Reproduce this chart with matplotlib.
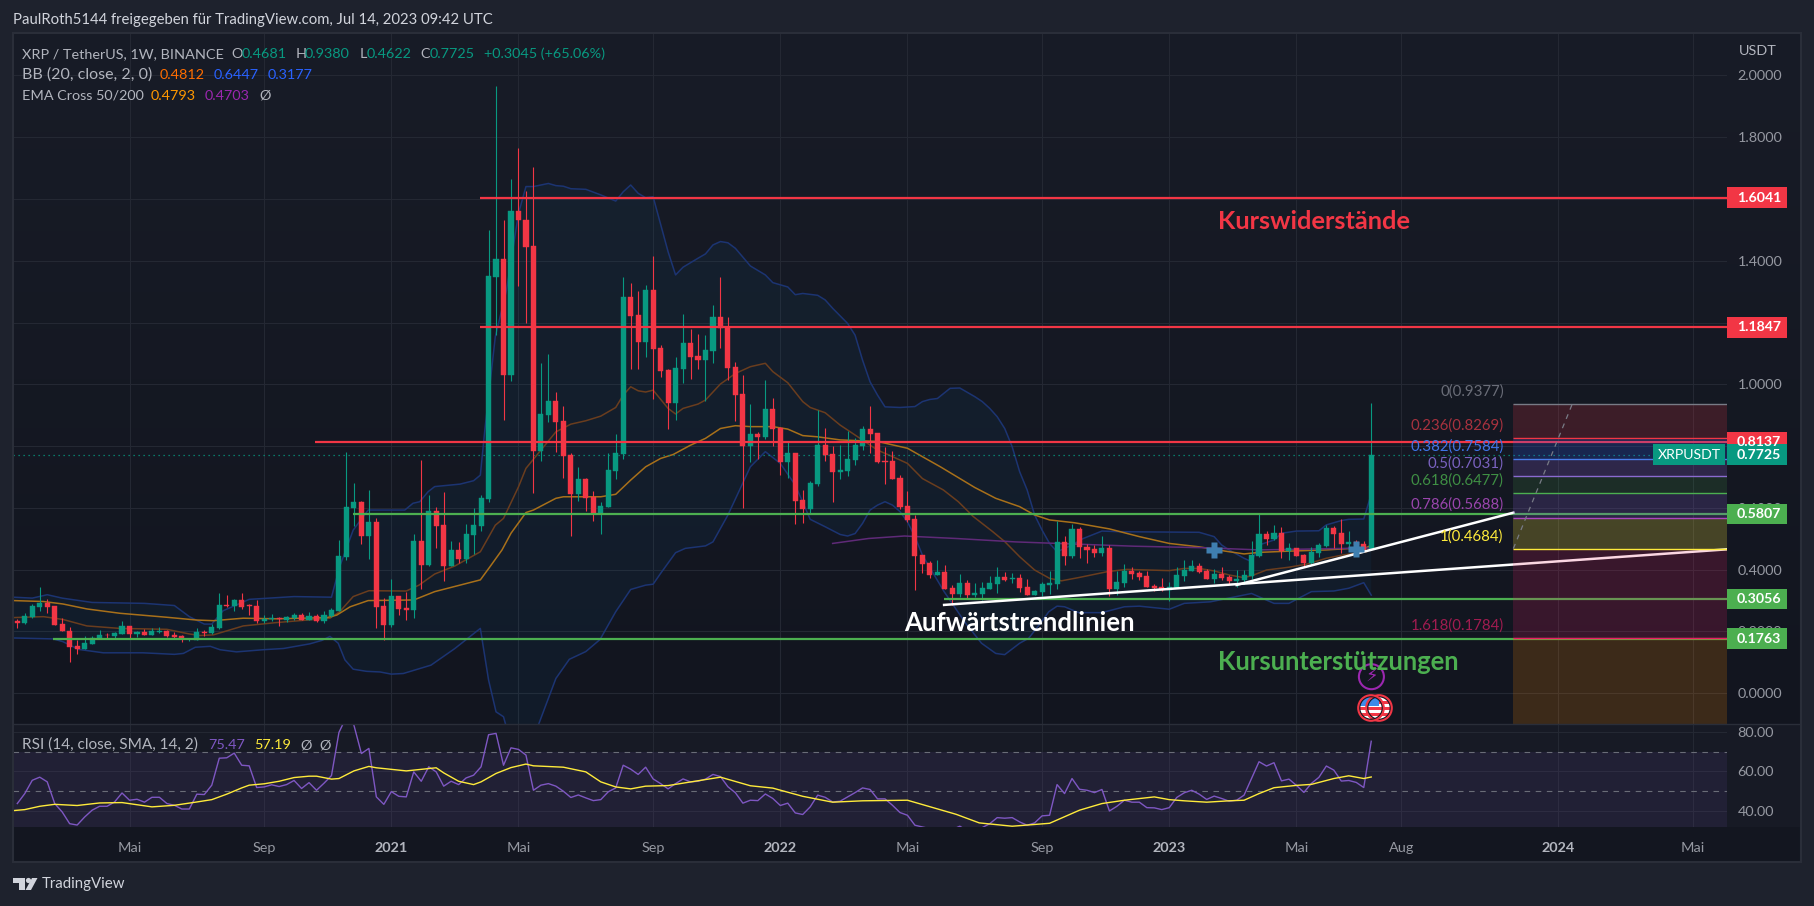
import numpy as np
import matplotlib
matplotlib.use("Agg")
import matplotlib.pyplot as plt
from matplotlib.patches import Rectangle, Circle, Polygon
from matplotlib.transforms import Affine2D

# Wochenkerzen XRP/USDT, Index 0 = Woche vom 20.01.2020
opens = [.235,.229,.247,.279,.292,.283,.224,.202,.153,.143,
         .161,.176,.190,.187,.193,.218,.192,.198,.190,.198,
         .202,.189,.186,.175,.174,.198,.195,.211,.285,.283,
         .302,.286,.283,.235,.239,.244,.238,.244,.253,.237,
         .249,.235,.250,.266,.441,.600,.619,.509,.554,.282,
         .221,.315,.276,.270,.493,.415,.590,.545,.412,.464,
         .435,.512,.541,.629,1.347,1.405,1.030,1.561,1.532,1.447,
         .784,.901,.946,.881,.771,.645,.693,.635,.582,.603,
         .719,.774,1.283,1.224,1.137,1.305,1.117,1.046,.939,1.049,
         1.134,1.091,1.079,1.108,1.218,1.185,1.056,.968,.800,.839,
         .829,.920,.858,.748,.777,.625,.596,.677,.803,.774,
         .716,.719,.755,.800,.855,.842,.752,.752,.697,.606,
         .564,.447,.422,.383,.393,.341,.321,.357,.318,.321,
         .337,.354,.376,.370,.373,.344,.318,.328,.352,.354,
         .490,.444,.532,.473,.467,.454,.470,.337,.357,.396,
         .389,.380,.347,.344,.334,.341,.380,.396,.412,.396,
         .370,.386,.376,.363,.367,.380,.444,.515,.499,.519,
         .460,.470,.448,.422,.454,.477,.535,.519,.483,.490,.483,.4681]
highs = [.241,.259,.289,.344,.304,.283,.244,.214,.172,.184,
         .184,.204,.195,.198,.233,.218,.203,.208,.210,.214,
         .206,.197,.189,.180,.211,.205,.223,.325,.318,.304,
         .325,.289,.302,.252,.257,.247,.250,.260,.260,.263,
         .256,.266,.275,.496,.780,.681,.622,.658,.567,.308,
         .370,.315,.329,.516,.755,.642,.603,.651,.493,.490,
         .548,.600,.642,1.499,1.965,1.532,1.664,1.765,1.626,1.703,
         1.069,1.098,.975,.930,.777,.732,.697,.655,.619,.777,
         .839,1.347,1.328,1.302,1.321,1.415,1.127,1.049,1.088,1.227,
         1.179,1.163,1.159,1.256,1.347,1.218,1.072,1.030,.936,.845,
         1.014,.955,.862,.813,.777,.658,.687,.917,.858,.800,
         .803,.849,.825,.865,.930,.842,.797,.784,.706,.654,
         .577,.447,.428,.431,.415,.350,.386,.367,.357,.360,
         .380,.409,.393,.389,.386,.370,.334,.360,.396,.558,
         .509,.548,.538,.483,.480,.509,.480,.396,.418,.409,
         .396,.396,.354,.373,.360,.409,.431,.431,.422,.402,
         .402,.409,.383,.399,.399,.493,.583,.525,.545,.538,
         .486,.470,.451,.473,.486,.545,.541,.564,.525,.496,.493,.938]
lows = [.212,.225,.244,.267,.261,.222,.200,.102,.127,.143,
        .160,.176,.175,.177,.192,.177,.183,.189,.189,.194,
        .183,.179,.167,.170,.174,.187,.192,.208,.279,.266,
        .274,.253,.229,.228,.235,.218,.230,.238,.237,.237,
        .231,.229,.248,.266,.431,.541,.483,.435,.211,.172,
        .214,.253,.237,.244,.337,.412,.470,.363,.412,.422,
        .422,.451,.525,.619,1.159,.884,1.011,1.318,1.198,.648,
        .752,.878,.781,.697,.509,.622,.590,.557,.515,.603,
        .693,.758,1.049,1.049,1.088,.952,1.023,.855,.884,1.004,
        1.017,1.049,.946,1.069,1.117,1.014,.881,.599,.748,.758,
        .823,.800,.706,.697,.548,.551,.580,.671,.752,.619,
        .693,.703,.739,.787,.777,.745,.677,.693,.596,.554,
        .334,.389,.373,.383,.337,.286,.312,.305,.312,.302,
        .337,.325,.363,.357,.328,.318,.318,.315,.321,.337,
        .415,.438,.438,.422,.441,.444,.315,.318,.344,.370,
        .367,.344,.331,.331,.300,.341,.364,.396,.389,.370,
        .357,.367,.354,.344,.354,.370,.441,.480,.496,.438,
        .431,.444,.409,.418,.441,.473,.470,.454,.464,.448,.464,.4622]
closes = [.229,.250,.283,.292,.279,.222,.200,.151,.143,.163,
          .179,.189,.188,.195,.218,.192,.198,.190,.202,.202,
          .187,.183,.175,.177,.198,.196,.215,.286,.283,.302,
          .279,.284,.234,.242,.244,.239,.246,.253,.238,.250,
          .235,.253,.270,.444,.603,.619,.509,.554,.279,.221,
          .315,.273,.271,.493,.415,.590,.541,.412,.464,.435,
          .516,.545,.632,1.350,1.405,1.030,1.561,1.532,1.444,.784,
          .904,.946,.878,.768,.645,.693,.632,.582,.606,.723,
          .777,1.283,1.221,1.137,1.305,1.114,1.043,.939,1.053,1.134,
          1.088,1.079,1.111,1.218,1.182,1.053,.965,.800,.839,.829,
          .920,.855,.748,.777,.622,.596,.680,.803,.771,.716,
          .722,.758,.803,.855,.839,.748,.748,.693,.603,.561,
          .444,.418,.383,.393,.337,.321,.357,.318,.325,.341,
          .357,.376,.367,.373,.341,.318,.331,.354,.357,.490,
          .444,.532,.473,.464,.454,.470,.337,.360,.396,.386,
          .376,.344,.341,.334,.343,.383,.399,.412,.393,.370,
          .386,.373,.363,.370,.383,.448,.515,.499,.519,.460,
          .470,.444,.422,.457,.480,.535,.515,.483,.490,.480,.464,.7725]

# Bollinger-Bänder: Stützpunkte (Kerzenindex, Preis)
bb_upper_x = [-.5,2,4,6,10,17,21,23,25,26,27.5,31,37,42,43.1,44.9,46.9,51.8,52.9,53.8,54.9,55.8,59.2,61,
              61.9,62.5,63.9,65.4,67,68,69,71,72,73,74,76,78,80,81,82,83,84,85,87,88,89,91,92,93,94,95,96,
              98,100,101,103,104,105,107,108,109,111,112,113,114,115,116,118,120,121,122,123,124.7,126,
              128,129,130,131,132,133,134,135,136,137,138,139,141,142.5,145,147.4,158,160,161,162,164,165,
              166,168,169,171,174,175,177,178,180,181]
bb_upper = [.311,.308,.319,.308,.294,.291,.284,.248,.224,.224,.267,.304,.313,.311,.410,.528,.593,.593,.615,.620,.652,.669,.677,.688,
            .706,.852,1.154,1.305,1.553,1.640,1.640,1.650,1.643,1.641,1.633,1.631,1.613,1.593,1.623,1.645,1.618,1.604,1.607,1.429,1.354,1.379,1.408,1.422,1.451,1.462,1.458,1.440,
            1.383,1.354,1.329,1.315,1.290,1.294,1.288,1.273,1.246,1.197,1.159,1.078,1.008,.965,.927,.925,.928,.944,.951,.954,.987,.988,
            .960,.944,.922,.895,.857,.798,.717,.658,.577,.528,.485,.458,.480,.501,.525,.523,.521,.507,.480,.464,.437,.426,
            .480,.496,.518,.525,.526,.545,.559,.563,.564,.6447]
bb_lower_x = [-.5,4.8,6.1,8.2,11.5,16.8,21,22.2,23.8,25.8,27.1,29.3,32.9,35.6,39.1,40.7,41.8,42.9,43.8,44.9,46.7,48.5,50,
              51.6,55.3,58.5,61.9,63,64,65,65.5,67,69.7,72,73.8,76,77.9,80,82,84,85,86,88,89.3,92,93,95,98,100,102,104,
              106,108,110,111,112,113,114,115,116,117,118,119,120,121,123.9,126.8,128.9,130.8,132,134,135.2,136.6,137.9,139,140,
              141.9,145,148,150,154,156,159.5,165,168,170,173,176,178,180,181]
bb_lower = [.179,.176,.167,.142,.131,.131,.126,.129,.149,.152,.141,.134,.141,.145,.160,.171,.184,.162,.108,.078,.071,.069,.062,
            .064,.091,.145,.210,.043,-.060,-.076,-.12,-.25,-.10,.048,.110,.135,.174,.264,.336,.350,.353,.388,.455,.469,.477,.490,.577,.733,.782,.744,.674,
            .563,.539,.514,.509,.517,.550,.593,.609,.620,.609,.588,.555,.507,.447,.329,.226,.162,.129,.125,.162,.178,.221,.264,.282,.280,
            .261,.261,.280,.282,.272,.291,.296,.323,.291,.291,.329,.331,.340,.358,.3177]
bb_basis_x = [-.5,3.5,6.1,9.3,13.7,20,23,24.4,26.2,30.2,34.7,41.8,43.1,44.9,47,52,53.7,55.8,58.5,61.9,63.9,65,67,68,70,72,
              74,76,78,80,81,82,83,84,85,87,88,89,91,92,94,96,98,100,101,103,105,106,108,110,111,115,117,119,121,123.8,
              125.8,127.8,130.4,132,134,136,138,139.6,142,145.8,148.3,154,156,158,160,162,164,165.3,167,170,172.4,175,177.3,180.4,181]
bb_basis = [.245,.248,.239,.218,.210,.207,.192,.187,.189,.218,.229,.243,.264,.313,.332,.331,.350,.386,.412,.458,.544,.566,.668,.728,.787,.846,
            .871,.882,.897,.925,.965,.992,.979,.975,.981,.922,.904,.922,.936,.949,1.001,1.035,1.057,1.068,1.041,1.005,.944,.925,.908,.868,.852,.787,.766,.744,.695,.658,
            .620,.572,.523,.491,.442,.399,.372,.364,.375,.394,.401,.397,.404,.404,.396,.383,.374,.383,.399,.408,.418,.437,.448,.458,.4812]

# EMA 50 und EMA 200
ema50_x = [-.5,3.5,6.1,9.3,13.7,20,24,26.2,30.2,34.7,41.4,42.7,44.5,46.9,53,55.8,61.9,63.2,64.8,66,68,69,72,73,78,80,82,84,86,87.7,90,92,94,96,98,
           101,103,105,107,110,115,119,123.4,128,130.8,134,136,138,141.3,146,150,154,158,161.5,164,166,170,175,180.4,181]
ema50 = [.300,.297,.289,.273,.259,.246,.237,.235,.243,.241,.245,.253,.280,.300,.302,.329,.367,.410,.464,.518,.585,.593,.631,.636,.636,.644,.690,.733,.760,.773,.803,.825,.857,.866,.863,
         .863,.855,.834,.830,.820,.815,.793,.733,.666,.631,.604,.577,.561,.552,.532,.507,.485,.474,.460,.451,.456,.460,.464,.472,.4793]
ema200_x = [109,113.8,118.6,125.5,133.4,141.3,149.3,158.8,166,181]
ema200 = [.485,.501,.509,.501,.490,.483,.476,.471,.464,.4703]

# RSI pro Kerze und sein gleitender Durchschnitt (Stützpunkte)
rsi = [43.6,48.7,55.5,57.1,54.7,43.6,39.3,33.3,32.6,36.7,40.2,42.2,42.2,44.4,49.0,45.3,45.8,44.3,46.8,46.8,
       43.6,42.7,40.8,40.8,48.4,48.2,53.0,66.8,67.0,69.4,63.2,62.9,51.8,52.1,53.2,52.3,53.3,55.4,51.3,54.3,
       50.4,54.0,57.9,80.0,88.0,83.7,69.2,71.8,47.0,43.2,49.7,47.3,47.0,59.8,55.0,62.4,59.8,52.5,55.0,53.3,
       56.7,58.1,62.4,78.8,79.5,63.2,72.1,71.3,68.4,50.4,53.0,53.8,52.5,49.9,46.7,48.0,46.5,45.1,45.6,49.6,
       51.6,63.2,61.2,58.5,62.2,56.2,53.8,51.1,53.8,56.2,54.7,55.0,56.1,58.5,57.4,52.2,49.1,43.8,45.3,45.1,
       48.5,46.2,42.6,43.8,38.8,38.0,41.9,47.9,46.8,44.4,44.8,47.0,49.2,51.6,50.8,46.0,46.0,42.7,39.0,37.6,
       32.5,31.6,30.8,30.0,30.0,30.3,32.0,29.6,28.6,31.3,33.3,36.4,36.1,36.4,34.2,32.5,33.7,37.3,37.6,53.3,
       48.7,56.4,50.9,50.4,49.2,50.8,39.8,42.2,45.3,44.3,44.3,41.5,41.4,40.5,41.5,46.7,49.1,50.4,48.4,45.7,
       47.4,46.2,44.8,45.3,47.9,56.4,65.0,62.8,64.5,55.2,56.1,52.9,49.3,53.9,57.0,62.8,60.7,55.1,55.4,54.4,51.8,75.47]
rsi_sma_x = [-.5,1,3,5,8,11,14,18,21,24,26,28,30,31,33,35,37,39,40,42,43,45,47,48,52,56,57,59,61,62,64,66,68,69,73,76,
             78,80,82,84,87,94,98,101,105,109,113,119,125.5,128.6,133,138,142,145,148,152,154,156,159,162,164,166,168,171,173,176,178,180,181]
rsi_sma = [40,40.5,42.2,43.2,42.6,43.9,44.1,41.9,42.7,44.4,45.6,48.4,51.6,53.0,53.7,55.0,56.9,57.6,57.6,56.1,56.4,60.3,62.6,61.9,60.3,61.9,59.3,55.0,53.3,54.7,59.0,62.0,63.8,62.9,62.2,59.8,
           54.7,52.1,51.1,52.5,52.8,57.1,52.7,51.5,47.3,44.3,45.0,45.3,38.1,33.7,32,33.5,40.2,43.6,45.3,47.0,45.6,45,44.3,45,45.3,48.7,51.7,52.9,53.4,56.4,57.8,56.4,57.19]

# Achsen
price_ticks = [2.0,1.8,1.6,1.4,1.2,1.0,.8,.6,.4,.2,0.0]
rsi_ticks = [80,60,40]
time_pos = [15,33,50,67,85,102,119,137,154,171,185,206,224]
time_labels = ["Mai","Sep","2021","Mai","Sep","2022","Mai","Sep","2023","Mai","Aug","2024","Mai"]

# Eingezeichnete Kurslinien: Startkerze, Preis
res_starts = [61.9,61.9,39.8]
res_levels = [1.6041,1.1847,.8137]
sup_starts = [44.9,123.9,4.8]
sup_levels = [.5807,.3056,.1763]
last_price = .7725

# Trendlinien
trend1_x = [123.9,228.6]
trend1_y = [.286,.466]
trend2_x = [163,200]
trend2_y = [.3505,.5845]

# Fibonacci
fib_x = [200,228.6]
fib_ratio = ["0","0.236","0.382","0.5","0.618","0.786","1","1.618"]
fib_price = [.9377,.8269,.7584,.7031,.6477,.5688,.4684,.1784]
fib_line = ["#787b86","#f23645","#4a7be8","#8a6bd0","#4caf50","#ab47bc","#ffeb3b","#e91e63"]
fib_text = ["#6a6d78","#a8323f","#3f74e8","#7a62c0","#3f8f44","#9a45ad","#ffeb3b","#a01c50"]
fib_fill = [("#f23645",.18),("#2962ff",.2),("#7e57c2",.25),("#4caf50",.15),("#7e57c2",.22),("#ffeb3b",.22),("#e91e63",.18),("#ff8a00",.18)]
fib_floor = -.2
fib_trend_x = [200,207.9]
fib_trend_y = [.4684,.9377]

# Kreuzmarker
marker_x = [160,179]
marker_y = [.4628,.466]

W, H = 1815, 906
C_UP, C_DOWN, C_GREEN = "#089981", "#f23645", "#4caf50"
GRID = "#242833"
TXT = "#b2b5be"
plt.rcParams["font.family"] = ["Lato", "DejaVu Sans"]

fig = plt.figure(figsize=(W / 100, H / 100), dpi=100, facecolor="#1e222d")
px = Affine2D().scale(1 / W, -1 / H).translate(0, 1) + fig.transFigure


def rect_axes(x0, y0, x1, y1):
    return [x0 / W, 1 - y1 / H, (x1 - x0) / W, (y1 - y0) / H]


def label(x, y, s, color=TXT, size=14.4, weight="normal", ha="left"):
    fig.text(x, y, s, transform=px, color=color, fontsize=size * .72, fontweight=weight, ha=ha, va="center", zorder=30)


# Hintergrund mit Verlauf: Hauptfenster, RSI, Zeitachse
ax_bg = fig.add_axes(rect_axes(13, 33, 1801, 862))
ax_bg.set_axis_off()
top, mid = np.array([0x18, 0x1c, 0x27]), np.array([0x12, 0x15, 0x1f])
grad = np.concatenate([np.linspace(top, mid, 691), np.tile([0x17, 0x1a, 0x25], (103, 1)), np.tile([0x13, 0x16, 0x20], (35, 1))])
ax_bg.imshow(grad[:, None, :] / 255, aspect="auto")

ax = fig.add_axes(rect_axes(13, 34, 1727, 724), facecolor="none")
ax_r = fig.add_axes(rect_axes(13, 724, 1727, 827), facecolor="none", sharex=ax)
ax.set_xlim(-.575, 228.56)
ax.set_ylim(-.0994, 2.1337)
ax_r.set_ylim(31.6, 84.3)

for a in (ax, ax_r):
    for s in a.spines.values():
        s.set_visible(False)
    a.grid(True, color=GRID, lw=.8)
    a.set_axisbelow(True)
    a.yaxis.tick_right()
    a.tick_params(length=0, colors=TXT, labelsize=10.4, pad=7.5)
ax.set_yticks(price_ticks)
ax.set_yticklabels(["%.4f" % p for p in price_ticks], color="#9598a1")
ax_r.set_yticks(rsi_ticks)
ax_r.set_yticklabels(["%.2f" % p for p in rsi_ticks], color="#9598a1")
ax_r.set_xticks(time_pos)
ax_r.set_xticklabels(time_labels)
ax.tick_params(labelbottom=False)
ax_r.tick_params(axis="x", pad=11)
for t in ax_r.get_xticklabels():
    t.set_color("#9598a1")
    if t.get_text().isdigit():
        t.set_fontweight("bold")
        t.set_color("#b2b5be")

# Bollinger-Band Fläche und Linien
ax.fill(bb_upper_x + bb_lower_x[::-1], bb_upper + bb_lower[::-1], color="#0d78b0", alpha=.07, lw=0, zorder=1)
ax.plot(bb_upper_x, bb_upper, color="#1c3472", lw=1.1, zorder=2)
ax.plot(bb_lower_x, bb_lower, color="#1c3472", lw=1.1, zorder=2)
ax.plot(bb_basis_x, bb_basis, color="#6a3d1e", lw=1.1, zorder=2)
ax.plot(ema50_x, ema50, color="#a8701a", lw=1.1, zorder=2)
ax.plot(ema200_x, ema200, color="#5f2a78", lw=1.1, zorder=2)

# Kerzen
idx = np.arange(len(closes))
o, h, l, c = map(np.array, (opens, highs, lows, closes))
cols = np.where(c >= o, C_UP, C_DOWN)
ax.vlines(idx, l, h, colors=cols, lw=.8, zorder=3)
ax.bar(idx, np.abs(c - o), bottom=np.minimum(o, c), width=.68, color=cols, edgecolor=cols, lw=.3, zorder=3)

# Linie des letzten Kurses
ax.axhline(last_price, color=C_UP, lw=.9, ls=(0, (1, 3)), zorder=2)

# Widerstände und Unterstützungen
for x0, p in zip(res_starts, res_levels):
    ax.plot([x0, 228.56], [p, p], color=C_DOWN, lw=1.6, zorder=4, solid_capstyle="butt")
for x0, p in zip(sup_starts, sup_levels):
    ax.plot([x0, 228.56], [p, p], color=C_GREEN, lw=1.6, zorder=4, solid_capstyle="butt")

# Trendlinien
ax.plot(trend1_x, trend1_y, color="white", lw=1.8, zorder=4)
ax.plot(trend2_x, trend2_y, color="white", lw=1.8, zorder=4)
ax.plot(marker_x, marker_y, ls="none", marker="P", ms=11, mfc="#3f7fb0", mec="none", zorder=5)

# Fibonacci-Box
edges = fib_price + [fib_floor]
for i, (col, al) in enumerate(fib_fill):
    ax.fill_between(fib_x, edges[i + 1], edges[i], color=col, alpha=al, lw=0, zorder=5)
for r, p, lc, tc in zip(fib_ratio, fib_price, fib_line, fib_text):
    ax.plot(fib_x, [p, p], color=lc, lw=1, zorder=6, solid_capstyle="butt")
    ax.annotate("%s(%.4f)" % (r, p), (fib_x[0], p), xytext=(-7, 9), textcoords="offset points",
                color=tc, fontsize=10.8, ha="right", va="center", zorder=6)
ax.plot(fib_trend_x, fib_trend_y, color="#787b86", lw=.9, ls=(0, (4, 4)), zorder=6)

# RSI
ax_r.axhspan(30, 70, color="#7e57c2", alpha=.1, lw=0, zorder=1)
for v in (70, 50):
    ax_r.axhline(v, color="#6a6d78", lw=.8, ls=(0, (5, 5)), zorder=2)
ax_r.plot(idx, rsi, color="#7e57c2", lw=1.0, zorder=3)
ax_r.plot(rsi_sma_x, rsi_sma, color="#ffeb3b", lw=1.0, zorder=4)

# Trennlinie zwischen den Fenstern und Rahmen
fig.add_artist(Rectangle((13, 33), 1788, 829, transform=px, fc="none", ec="#2a2e39", lw=1.5))
fig.add_artist(Rectangle((13, 724), 1788, 0, transform=px, fc="none", ec="#2a2e39", lw=1))

# Preisschilder rechts
ytrans = ax.get_yaxis_transform()
box_w = 60.4 / 1714
box_h = 20.7 / 309
for p, col in zip(res_levels + [last_price] + sup_levels, [C_DOWN] * 3 + [C_UP] + [C_GREEN] * 3):
    ax.add_patch(Rectangle((1, p - box_h / 2), box_w, box_h, transform=ytrans, fc=col, lw=0, clip_on=False, zorder=8))
    ax.text(1 + 10 / 1714, p, "%.4f" % p, transform=ytrans, color="white", fontsize=10.2, fontweight="bold",
            ha="left", va="center", clip_on=False, zorder=9)
ax.add_patch(Rectangle((1 - 74 / 1714, last_price - box_h / 2), 72.5 / 1714, box_h, transform=ytrans, fc=C_UP, lw=0, clip_on=False, zorder=8))
ax.text(1 - 37.5 / 1714, last_price, "XRPUSDT", transform=ytrans, color="white", fontsize=10.2, ha="center", va="center", zorder=9)

# Beschriftungen im Chart
label(1218.5, 221.5, "Kurswiderstände", C_DOWN, 25.4, "bold")
label(904.5, 623, "Aufwärtstrendlinien", "white", 25.8, "bold")
label(1218.5, 661.5, "Kursunterstützungen", C_GREEN, 25.6, "bold")

# Kopfzeile und Legende
label(13, 20, "PaulRoth5144 freigegeben für TradingView.com, Jul 14, 2023 09:42 UTC", "#d1d4dc", 14.9)
label(22.5, 53.7, "XRP / TetherUS, 1W, BINANCE")
for x, s, col in [(231.7, "O", TXT), (242, "0.4681", C_UP), (295.8, "H", TXT), (305, "0.9380", C_UP),
                  (359.4, "L", TXT), (367, "0.4622", C_UP), (420.7, "C", TXT), (430, "0.7725", C_UP),
                  (484.4, "+0.3045 (+65.06%)", C_UP)]:
    label(x, 53.7, s, col)
label(22.5, 75, "BB (20, close, 2, 0)", size=16)
for x, s, col in [(160, "0.4812", "#ff6d00"), (214, "0.6447", "#2962ff"), (268, "0.3177", "#2962ff")]:
    label(x, 75, s, col)
label(22.5, 96, "EMA Cross 50/200")
for x, s, col in [(151, "0.4793", "#ff9800"), (205, "0.4703", "#9c27b0"), (259, "Ø", TXT)]:
    label(x, 96, s, col)
label(22.5, 745, "RSI (14, close, SMA, 14, 2)", size=15.4)
for x, s, col in [(208, "75.47", "#7e57c2"), (254, "57.19", "#ffeb3b"), (300.5, "Ø", TXT), (319.5, "Ø", TXT)]:
    label(x, 745, s, col)
label(1739, 50.7, "USDT")

# Ereignis-Symbole unter der letzten Kerze
fig.add_artist(Circle((1371.4, 676.7), 12.5, transform=px, fc="#131620", ec="#9c27b0", lw=1.5, zorder=20))
fig.text(1371.4, 676.7, "\u26a1", transform=px, color="#9c27b0", fontsize=13, ha="center", va="center",
         family="DejaVu Sans", zorder=21)
for cx in (1379, 1371):
    ring = Circle((cx, 708), 11.5, transform=px, fc="white", ec="none", zorder=20)
    fig.add_artist(ring)
    for yy in (701, 707, 713):
        st = Rectangle((cx - 12, yy), 24, 3, transform=px, fc="#f23645", lw=0, zorder=21)
        fig.add_artist(st)
        st.set_clip_path(ring)
    can = Rectangle((cx - 12, 697), 12, 9, transform=px, fc="#3d8be8", lw=0, zorder=22)
    fig.add_artist(can)
    can.set_clip_path(ring)
    fig.add_artist(Circle((cx, 708), 11.5, transform=px, fc="none", ec="#131620", lw=1.2, zorder=23))
    fig.add_artist(Circle((cx, 708), 12.8, transform=px, fc="none", ec="#f23645", lw=1.5, zorder=23))

# TradingView Logo
logo = "#d1d4dc"
fig.add_artist(Polygon([(13, 878), (25, 878), (25, 890), (19.5, 890), (19.5, 883), (13, 883)], closed=True, transform=px, fc=logo, lw=0))
fig.add_artist(Circle((28.5, 880.5), 2.6, transform=px, fc=logo, lw=0))
fig.add_artist(Polygon([(32, 878), (37.5, 878), (31, 890), (25.5, 890)], closed=True, transform=px, fc=logo, lw=0))
label(41.5, 884, "TradingView", "#d1d4dc", 15)

fig.savefig("out.png", dpi=100, facecolor=fig.get_facecolor())
